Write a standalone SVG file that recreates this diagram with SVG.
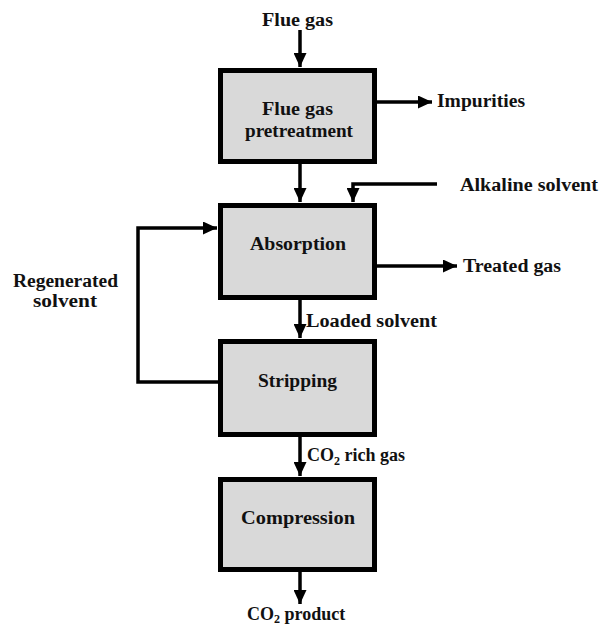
<svg xmlns="http://www.w3.org/2000/svg" width="604" height="629" viewBox="0 0 604 629">
<defs>
<style>
.box{fill:#d9d9d9;stroke:#000;stroke-width:5}
.ln{fill:none;stroke:#000;stroke-width:3.5}
text{font-family:"Liberation Serif","DejaVu Serif","Times New Roman",serif;font-weight:bold;font-size:18px;fill:#111}
</style>
<marker id="ah" markerUnits="userSpaceOnUse" markerWidth="15" markerHeight="13" refX="14" refY="6.5" orient="auto">
<path d="M0,0 L14,6.5 L0,13 Z" fill="#000"/>
</marker>
</defs>
<rect width="604" height="629" fill="#fff"/>
<g id="connectors">
<path class="ln" d="M300,30 V67" marker-end="url(#ah)"/>
<path class="ln" d="M300,164 V202" marker-end="url(#ah)"/>
<path class="ln" d="M437,184 H353 V202" marker-end="url(#ah)"/>
<path class="ln" d="M377,102 H432" marker-end="url(#ah)"/>
<path class="ln" d="M377,266 H457" marker-end="url(#ah)"/>
<path class="ln" d="M218,382 H138 V228 H217" marker-end="url(#ah)"/>
<path class="ln" d="M300,300 V338" marker-end="url(#ah)"/>
<path class="ln" d="M300,437 V476" marker-end="url(#ah)"/>
<path class="ln" d="M300,572 V604" marker-end="url(#ah)"/>
</g>
<g id="pretreatment">
<rect class="box" x="220.5" y="70.5" width="154" height="91"/>
<text x="262" y="115" textLength="71" lengthAdjust="spacingAndGlyphs">Flue gas</text>
<text x="245" y="137" textLength="108" lengthAdjust="spacingAndGlyphs">pretreatment</text>
</g>
<g id="absorption">
<rect class="box" x="220.5" y="205.5" width="154" height="92"/>
<text x="250" y="250" textLength="96" lengthAdjust="spacingAndGlyphs">Absorption</text>
</g>
<g id="stripping">
<rect class="box" x="220.5" y="341.5" width="154" height="93"/>
<text x="258" y="387" textLength="79" lengthAdjust="spacingAndGlyphs">Stripping</text>
</g>
<g id="compression">
<rect class="box" x="220.5" y="479.5" width="154" height="90"/>
<text x="241" y="524" textLength="114" lengthAdjust="spacingAndGlyphs">Compression</text>
</g>
<g id="labels">
<text x="262" y="26" textLength="71" lengthAdjust="spacingAndGlyphs">Flue gas</text>
<text x="437" y="107" textLength="88" lengthAdjust="spacingAndGlyphs">Impurities</text>
<text x="460" y="191" textLength="138" lengthAdjust="spacingAndGlyphs">Alkaline solvent</text>
<text x="463" y="272" textLength="98" lengthAdjust="spacingAndGlyphs">Treated gas</text>
<text x="13" y="287" textLength="105" lengthAdjust="spacingAndGlyphs">Regenerated</text>
<text x="33" y="307" textLength="64" lengthAdjust="spacingAndGlyphs">solvent</text>
<text x="306" y="327" textLength="131" lengthAdjust="spacingAndGlyphs">Loaded solvent</text>
<text x="307" y="461">CO<tspan font-size="12" dy="4">2</tspan><tspan dy="-4"> rich gas</tspan></text>
<text x="247" y="620">CO<tspan font-size="12" dy="3">2</tspan><tspan dy="-3"> product</tspan></text>
</g>
</svg>
